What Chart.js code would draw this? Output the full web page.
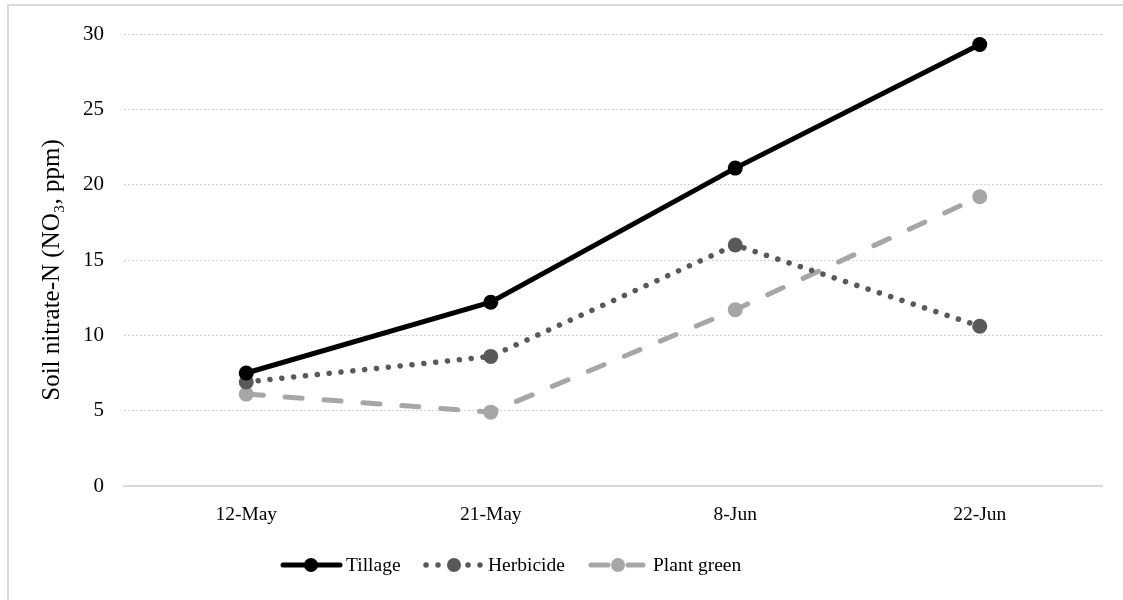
<!DOCTYPE html>
<html>
<head>
<meta charset="utf-8">
<script src="https://cdn.jsdelivr.net/npm/chart.js@4/dist/chart.umd.min.js"></script>
<style>
html,body{margin:0;padding:0;background:#fff;}
#wrap{position:relative;width:1123px;height:600px;}
</style>
</head>
<body>
<div id="wrap"><canvas id="c" width="1123" height="600"></canvas></div>
<script>
const categories = ['12-May', '21-May', '8-Jun', '22-Jun'];
const tillage = [7.5, 12.2, 21.1, 29.3];
const herbicide = [6.9, 8.6, 16.0, 10.6];
const plantGreen = [6.1, 4.9, 11.7, 19.2];
const yTicks = [0, 5, 10, 15, 20, 25, 30];
const yTitle = 'Soil nitrate-N (NO\u2083, ppm)';

const FONT = "'Liberation Serif', 'Times New Roman', serif";

const framePlugin = {
  id: 'frame',
  beforeDraw(chart) {
    const ctx = chart.ctx;
    ctx.save();
    ctx.fillStyle = '#fff';
    ctx.fillRect(0, 0, chart.width, chart.height);
    ctx.strokeStyle = '#d9d9d9';
    ctx.lineWidth = 2;
    ctx.beginPath();
    ctx.moveTo(8, chart.height);
    ctx.lineTo(8, 5);
    ctx.lineTo(chart.width, 5);
    ctx.stroke();
    ctx.restore();
  },
  afterDraw(chart) {
    const ctx = chart.ctx;
    ctx.save();
    ctx.translate(52, 270);
    ctx.rotate(-Math.PI / 2);
    ctx.fillStyle = '#000';
    ctx.font = '25px ' + FONT;
    ctx.textAlign = 'center';
    ctx.textBaseline = 'middle';
    ctx.fillText(yTitle, 0, 0);
    ctx.restore();
  }
};

// legend layout: [segments], marker x, text x
const legendLayout = [
  { segs: [[283, 340]], mx: 311, tx: 346 },
  { segs: [[426, 438], [468, 480]], mx: 454, tx: 488 },
  { segs: [[591, 608], [628, 643]], mx: 618, tx: 653 }
];

const legendPlugin = {
  id: 'customLegend',
  afterDraw(chart) {
    const ctx = chart.ctx;
    const y = 565;
    ctx.save();
    chart.data.datasets.forEach((ds, i) => {
      const L = legendLayout[i];
      ctx.strokeStyle = ds.borderColor;
      ctx.lineWidth = ds.borderWidth;
      ctx.lineCap = 'round';
      ctx.setLineDash(ds.legendDash || []);
      L.segs.forEach(s => {
        ctx.beginPath();
        ctx.moveTo(s[0], y);
        ctx.lineTo(s[1], y);
        ctx.stroke();
      });
      ctx.setLineDash([]);
      ctx.fillStyle = ds.pointBackgroundColor;
      ctx.beginPath();
      ctx.arc(L.mx, y, 7, 0, Math.PI * 2);
      ctx.fill();
      ctx.fillStyle = '#000';
      ctx.font = '19.5px ' + FONT;
      ctx.textBaseline = 'middle';
      ctx.textAlign = 'left';
      ctx.fillText(ds.label, L.tx, y + 1);
    });
    ctx.restore();
  }
};

new Chart(document.getElementById('c'), {
  type: 'line',
  data: {
    labels: categories,
    datasets: [
      {
        label: 'Tillage', data: tillage,
        borderColor: '#000000', backgroundColor: '#000000',
        pointBackgroundColor: '#000000', pointBorderColor: '#000000',
        borderWidth: 5, pointRadius: 7.5, pointBorderWidth: 0,
        borderCapStyle: 'round', tension: 0, legendDash: []
      },
      {
        label: 'Herbicide', data: herbicide,
        borderColor: '#595959', backgroundColor: '#595959',
        pointBackgroundColor: '#595959', pointBorderColor: '#595959',
        borderWidth: 5.5, pointRadius: 7.5, pointBorderWidth: 0,
        borderCapStyle: 'round', borderDash: [0.1, 11.8], tension: 0,
        legendDash: [0.1, 11.9]
      },
      {
        label: 'Plant green', data: plantGreen,
        borderColor: '#a6a6a6', backgroundColor: '#a6a6a6',
        pointBackgroundColor: '#a6a6a6', pointBorderColor: '#a6a6a6',
        borderWidth: 5, pointRadius: 7.5, pointBorderWidth: 0,
        borderCapStyle: 'round', borderDash: [17, 22], tension: 0,
        legendDash: []
      }
    ]
  },
  options: {
    responsive: false,
    animation: false,
    devicePixelRatio: 1,
    layout: { padding: { top: 34, right: 21, bottom: 0, left: 0 } },
    plugins: {
      legend: { display: false },
      tooltip: { enabled: false }
    },
    scales: {
      x: {
        offset: true,
        grid: { display: false, drawTicks: false },
        border: { display: true, color: '#d9d9d9', width: 2 },
        ticks: { color: '#000', font: { family: FONT, size: 19.5 }, padding: 17 },
        afterFit(scale) { scale.height = 114; }
      },
      y: {
        min: 0, max: 30,
        afterBuildTicks(scale) { scale.ticks = yTicks.map(v => ({ value: v })); },
        grid: { color: '#d0d0d0', lineWidth: 1, drawTicks: false },
        border: { display: false, dash: [2, 2] },
        ticks: { color: '#000', font: { family: FONT, size: 21 }, padding: 20 },
        title: { display: false, text: yTitle },
        afterFit(scale) { scale.width = 124; }
      }
    }
  },
  plugins: [framePlugin, legendPlugin]
});
</script>
</body>
</html>
